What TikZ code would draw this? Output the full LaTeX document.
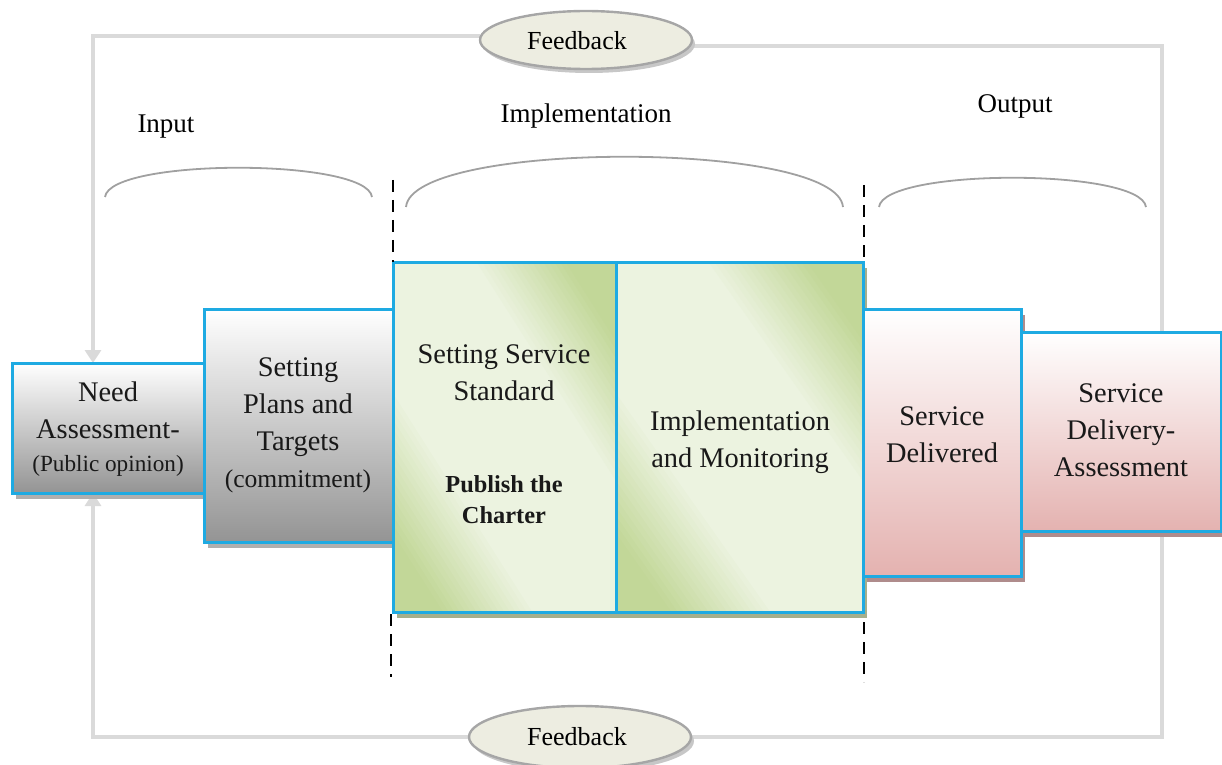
\documentclass[tikz,border=0pt]{standalone}
\usepackage{fontspec}
\setmainfont{Liberation Serif}
\usetikzlibrary{shapes.geometric,shadows,arrows.meta,backgrounds,calc}
\definecolor{bordc}{RGB}{30,170,226}
\definecolor{gl}{RGB}{236,243,224}
\definecolor{gd}{RGB}{194,215,152}
\definecolor{gsh}{RGB}{165,175,140}
\definecolor{pinkc}{RGB}{228,178,176}
\definecolor{psh}{RGB}{175,140,140}
\definecolor{graysh}{RGB}{175,175,175}
\definecolor{fbfill}{RGB}{237,237,225}
\definecolor{loopc}{RGB}{218,218,218}
\definecolor{arcc}{RGB}{160,160,160}
\tikzset{
  box/.style={rectangle, draw=bordc, line width=1.5pt, inner sep=0pt, outer sep=0pt},
  graybox/.style={box, top color=white, bottom color=black!42,
     drop shadow={shadow xshift=2pt,shadow yshift=-3pt,fill=graysh,opacity=1}},
  greenbox/.style={box, fill=gl,
     drop shadow={shadow xshift=2pt,shadow yshift=-3pt,fill=gsh,opacity=1}},
  pinkbox/.style={box, top color=white, bottom color=pinkc,
     drop shadow={shadow xshift=2pt,shadow yshift=-3pt,fill=psh,opacity=1}},
  txt/.style={align=center, inner sep=0pt, text=black!90, font=\fontsize{14.2}{18.5}\selectfont},
  head/.style={inner sep=0pt, font=\fontsize{13.5}{16}\selectfont},
  fbell/.style={ellipse, draw=black!35, line width=1.2pt, fill=fbfill, inner sep=0pt,
     drop shadow={shadow xshift=1.5pt,shadow yshift=-2pt,fill=black!22,opacity=1}},
  fbtxt/.style={inner sep=0pt, font=\fontsize{13}{15}\selectfont},
  fbline/.style={draw=loopc, line width=2pt},
  fbtip/.style={-{Triangle[width=8pt,length=6.5pt]}},
  dashline/.style={draw=black, line width=1pt, dash pattern=on 6pt off 4pt},
  arcline/.style={draw=arcc, line width=0.9pt},
  borderline/.style={draw=bordc, line width=1.5pt}
}
% diagonal green banding: light along the top-left/bottom-right diagonal,
% green towards the top-right and bottom-left corners
\newcommand{\greenfill}[5]{%
  \begin{scope}
  \clip (#1.north west) rectangle (#1.south east);
  \foreach \i in {0,...,79}{%
    \pgfmathsetmacro\gs{-1+\i*0.025}%
    \pgfmathsetmacro\gp{min(100,max(0,(abs(\gs+0.0125)-0.36)/0.42*100))}%
    \fill[gd!\gp!gl] ({#2+\gs*#4},#3) -- ({#2+(\gs+0.03)*#4},#3)
       -- ({#2+(1+\gs+0.03)*#4},{#3+#5}) -- ({#2+(1+\gs)*#4},{#3+#5}) -- cycle;
  }
  \end{scope}
  \draw[borderline] (#1.north west) rectangle (#1.south east);
}
\begin{document}
\begin{tikzpicture}[x=0.5pt,y=-0.5pt]
\useasboundingbox (0,0) rectangle (1222,765);

% boxes
\node[graybox, minimum width=96.5pt, minimum height=65pt] (need) at (108.5,428) {};
\node[graybox, minimum width=94.5pt, minimum height=116.5pt] (plans) at (298.5,425.5) {};
\node[greenbox, minimum width=111.5pt, minimum height=175pt] (sss) at (504.5,437) {};
\greenfill{sss}{393}{262}{223}{350}
\node[greenbox, minimum width=123.5pt, minimum height=175pt] (impm) at (739.5,437) {};
\greenfill{impm}{616}{262}{247}{350}
\node[pinkbox, minimum width=79pt, minimum height=133.5pt] (sdel) at (942,442.5) {};
\node[pinkbox, minimum width=100pt, minimum height=99.5pt] (sda) at (1121,431.5) {};

% texts
\node[txt] (needt) at (108,429) {Need\\Assessment-\\[-2pt]{\fontsize{11.6}{14}\selectfont(Public opinion)}};
\node[txt] (planst) at (298,425) {Setting\\Plans and\\Targets\\{\fontsize{12.8}{15}\selectfont(commitment)}};
\node[txt] (ssst) at (504,373) {Setting Service\\Standard};
\node[txt, font=\bfseries\fontsize{12.2}{15.5}\selectfont] (pubt) at (504,500) {Publish the\\Charter};
\node[txt] (impmt) at (740,442) {Implementation\\and Monitoring};
\node[txt] (sdelt) at (942,435) {Service\\Delivered};
\node[txt] (sdat) at (1121,430) {Service\\Delivery-\\Assessment};

% headers
\node[head] (hin) at (166,127) {Input};
\node[head] (himp) at (586,116) {Implementation};
\node[head] (hout) at (1015,106) {Output};

% feedback ellipses
\node[fbell, minimum width=106pt, minimum height=29pt] (fbt) at (586,40) {};
\node[fbtxt] (fbtt) at (577,41) {Feedback};
\node[fbell, minimum width=111pt, minimum height=31pt] (fbb) at (580,737) {};
\node[fbtxt] (fbbt) at (577,737) {Feedback};

% feedback loop
\begin{pgfonlayer}{background}
\draw[fbline,fbtip] (fbt.178) -| ($(need.north west)+(81,0)$);
\draw[fbline] (fbt.-3) -| ($(sda.north west)+(141,0)$);
\draw[fbline,fbtip] (fbb.west) -| ($(need.south west)+(81,0)$);
\draw[fbline] (fbb.east) -| ($(sda.south west)+(141,0)$);
\end{pgfonlayer}

% arcs
\draw[arcline] (105,197) .. controls (110,158) and (367,158) .. (372,197);
\draw[arcline] (406,207) .. controls (412,140) and (837,140) .. (843,207);
\draw[arcline] (879,207) .. controls (884,168) and (1141,168) .. (1146,207);

% dashed separators
\draw[dashline] (393,180) -- (393,262);
\draw[dashline] (391,614) -- (391,677);
\draw[dashline] (864,185) -- (864,262);
\draw[dashline] (864,622) -- (864,682);
\end{tikzpicture}
\end{document}
